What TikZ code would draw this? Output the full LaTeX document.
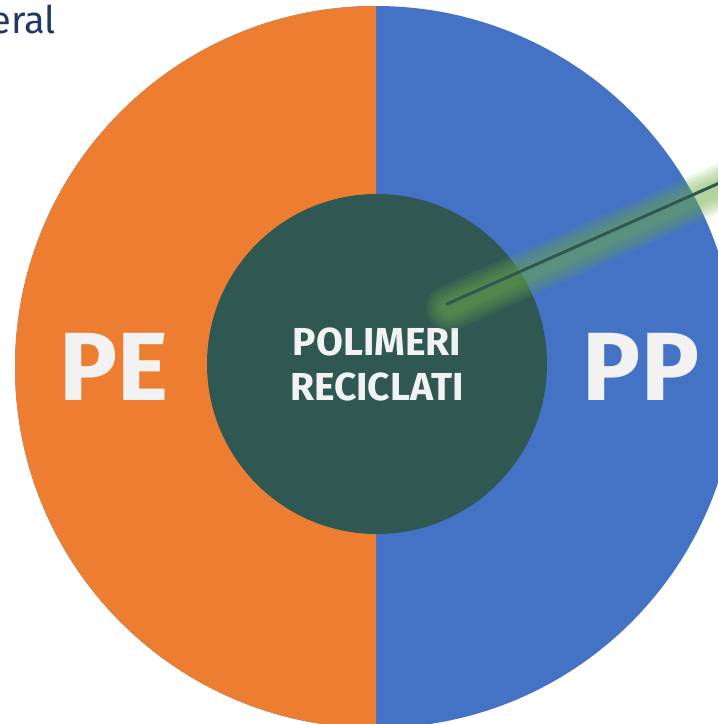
\documentclass[tikz,border=0pt]{standalone}
\usepackage{fontspec}
\setmainfont{Fira Sans}
\usetikzlibrary{calc}
\definecolor{peorange}{HTML}{ED7D31}
\definecolor{ppblue}{HTML}{4472C4}
\definecolor{coreteal}{HTML}{2F5853}
\definecolor{labelwhite}{HTML}{F2F2F2}
\definecolor{titlenavy}{HTML}{203864}
\definecolor{glowgreen}{HTML}{70AD47}
\tikzset{
%Define style for the labels
big label/.style={text=labelwhite, inner sep=0pt, font=\fontsize{97}{97}\selectfont\bfseries},
core label/.style={text=labelwhite, inner sep=0pt, align=center, font=\fontsize{39}{45}\selectfont\bfseries},
title text/.style={text=titlenavy, inner sep=0pt, font=\fontsize{38}{38}\selectfont},
%Define style for the leader line and its glow
leader/.style={line width=3pt, draw=coreteal, line cap=round},
glow/.style={line width=#1, draw=glowgreen, opacity=0.12, line cap=round},
}

\begin{document}
\begin{tikzpicture}[x=1pt,y=-1pt]
    \useasboundingbox (0,0) rectangle (718,724);
    \clip (0,0) rectangle (718,724);

    % Centre of the rings
    \coordinate (c) at (376,367);

    % Outer ring: PE left, PP right
    \fill[ppblue] (c) circle (361pt);
    \begin{scope}
      \clip (0,0) rectangle (c |- 0,724);
      \fill[peorange] (c) circle (361pt);
    \end{scope}

    % Inner disc
    \fill[coreteal] (377,364) circle (170pt);

    % Labels
    \node[big label, anchor=base] (pe) at (114,400) {PE};
    \node[big label, anchor=base] (pp) at (641,400) {PP};
    \node[core label] (core) at (377,364) {POLIMERI\\RECICLATI};
    \node[title text, anchor=base east] (title) at (56,33) {eral};

    % Leader line with glow
    \path
    coordinate (tip) at (447,304)
    coordinate (far) at (760,165)
    coordinate (gtip) at (449,308)
    coordinate (gfar) at (762,169);
    \foreach \w in {46,40,34,28,22,16}
      \draw[glow=\w pt] (gtip) -- (gfar);
    \draw[leader] (tip) -- (far);
\end{tikzpicture}
\end{document}
